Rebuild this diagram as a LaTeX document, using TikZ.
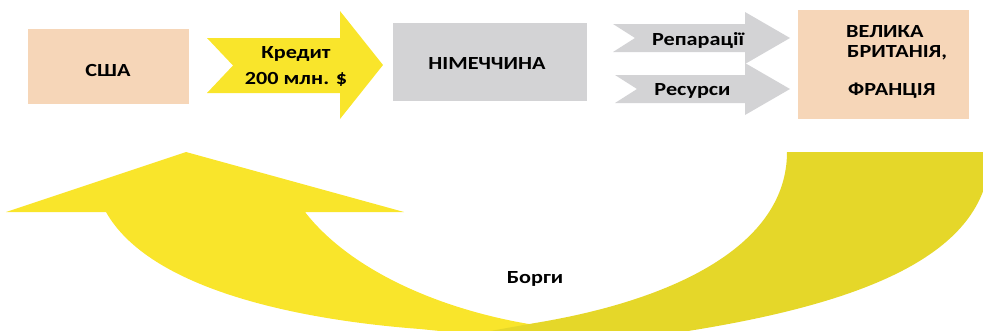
\documentclass[tikz,border=0pt]{standalone}
\usepackage{fontspec}
\setmainfont{Carlito}[FakeStretch=1.2]
\definecolor{ylight}{HTML}{F9E52B}
\definecolor{ydark}{HTML}{E5D729}
\definecolor{peach}{HTML}{F6D6B8}
\definecolor{greybox}{HTML}{D3D3D5}
\begin{document}
\begin{tikzpicture}[x=1pt,y=-1pt,
  lbl/.style={font=\fontsize{18.5}{21}\selectfont\bfseries, inner sep=0pt, anchor=base},
  box/.style={draw=none, inner sep=0pt}]
\useasboundingbox (0,0) rectangle (983,330);
\begin{scope}
\clip (0,0) rectangle (983,330);
\fill[ylight] (106,212) -- (6,212) -- (186,152) -- (404,212) -- (305,212)
  .. controls (350,270) and (440,310) .. (535,325) -- (580,345) -- (470,334)
  -- (420,329) .. controls (300,320) and (150,290) .. (106,212) -- cycle;
\fill[ydark] (787,152) -- (990,152)
  .. controls (990,260) and (850,310) .. (640,338) -- (440,345) -- (440,340)
  -- (535,323) .. controls (675,300) and (787,245) .. (787,152) -- cycle;
\end{scope}
% boxes
\node[box, fill=peach, minimum width=161pt, minimum height=75pt] (usa) at (108.5,66.5) {};
\node[box, fill=greybox, minimum width=194pt, minimum height=78pt] (ger) at (490,62) {};
\node[box, fill=peach, minimum width=171pt, minimum height=109pt] (ukfr) at (883.5,64.5) {};
% arrows
\fill[ylight] (207,38) -- (340,38) -- (340,11) -- (383,65) -- (340,119) -- (340,93) -- (207,93) -- (233,65.5) -- cycle;
\fill[greybox] (613,24) -- (745,24) -- (745,12) -- (790,38) -- (745,64) -- (745,52) -- (613,52) -- (635,38) -- cycle;
\fill[greybox] (615,75) -- (745,75) -- (745,63) -- (790,89) -- (745,115) -- (745,103) -- (615,103) -- (637,89) -- cycle;
% labels
\node[lbl] (tusa) at (108,76) {США};
\node[lbl] (tcr1) at (296,58.5) {Кредит};
\node[lbl] (tcr2) at (296,84) {200 млн. \$};
\node[lbl] (tger) at (487,69) {НІМЕЧЧИНА};
\node[lbl] (trep) at (698,45) {Репарації};
\node[lbl] (tres) at (692.5,95.5) {Ресурси};
\node[lbl, anchor=base west] (tuk1) at (846,37.5) {ВЕЛИКА};
\node[lbl, anchor=base west] (tuk2) at (847,57.5) {БРИТАНІЯ,};
\node[lbl, anchor=base west] (tuk3) at (848,95) {ФРАНЦІЯ};
\node[lbl] (tdebt) at (535,283.3) {Борги};
\end{tikzpicture}
\end{document}
